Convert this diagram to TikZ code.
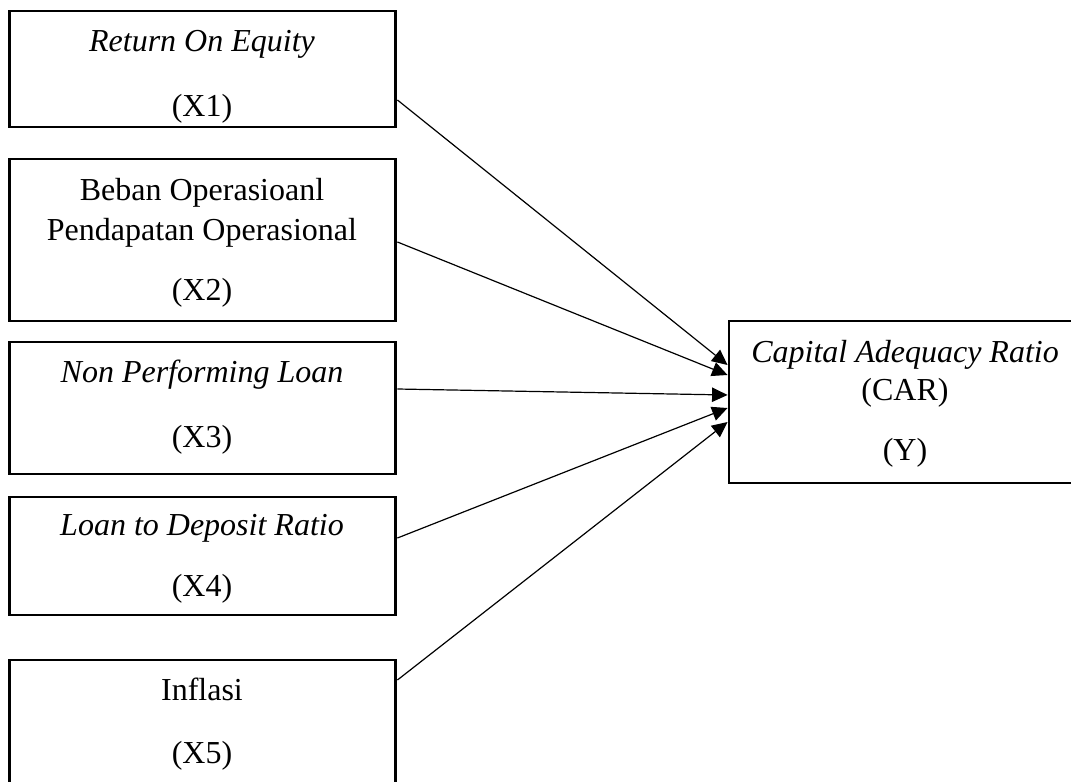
\documentclass[tikz,border=0pt]{standalone}
\usepackage{fontspec}
\setmainfont{Liberation Serif}
\usetikzlibrary{arrows.meta,calc}

\tikzset{
  varbox/.style={draw,line width=1.1pt,inner sep=0pt,minimum width=144.9pt},
  lbl/.style={anchor=base,inner sep=0pt,font=\fontsize{12}{14}\selectfont},
  link/.style={-{Triangle[length=5.8pt,width=5.4pt]},line width=0.45pt}
}

\begin{document}
\begin{tikzpicture}[x=0.375pt,y=-0.375pt]
\clip (0,0) rectangle (1071,781);
\begin{scope}
\node[varbox,minimum height=43.5pt] (x1) at (202.75,69) {};
\node[varbox,minimum height=60.75pt] (x2) at (202.75,240) {};
\node[varbox,minimum height=49.5pt] (x3) at (202.75,408) {};
\node[varbox,minimum height=44.25pt] (x4) at (202.75,556) {};
\node[varbox,minimum height=52.5pt] (x5) at (202.75,730) {};
\node[varbox,minimum width=143.25pt,minimum height=60.75pt] (y) at (920,402) {};

\node[lbl] (x1a) at (202,52) {\itshape Return On Equity};
\node[lbl] (x1b) at (202,116) {(X1)};
\node[lbl] (x2a) at (202,200) {Beban Operasioanl};
\node[lbl] (x2b) at (202,240) {Pendapatan Operasional};
\node[lbl] (x2c) at (202,300) {(X2)};
\node[lbl] (x3a) at (202,382) {\itshape Non Performing Loan};
\node[lbl] (x3b) at (202,447) {(X3)};
\node[lbl] (x4a) at (202,535) {\itshape Loan to Deposit Ratio};
\node[lbl] (x4b) at (202,596) {(X4)};
\node[lbl] (x5a) at (202,700) {Inflasi};
\node[lbl] (x5b) at (202,763) {(X5)};
\node[lbl] (ya) at (905,362) {\itshape Capital Adequacy Ratio};
\node[lbl] (yb) at (905,400) {(CAR)};
\node[lbl] (yc) at (905,460) {(Y)};

\draw[link] ($(x1.east)+(0,31)$) -- ($(y.west)+(0,-37)$);
\draw[link] ($(x2.east)+(0,2)$) -- ($(y.west)+(0,-27)$);
\draw[link] ($(x3.east)+(0,-19)$) -- ($(y.west)+(0,-7)$);
\draw[link] ($(x4.east)+(0,-18)$) -- ($(y.west)+(0,6)$);
\draw[link] ($(x5.east)+(0,-50)$) -- ($(y.west)+(0,20)$);
\end{scope}
\end{tikzpicture}
\end{document}
